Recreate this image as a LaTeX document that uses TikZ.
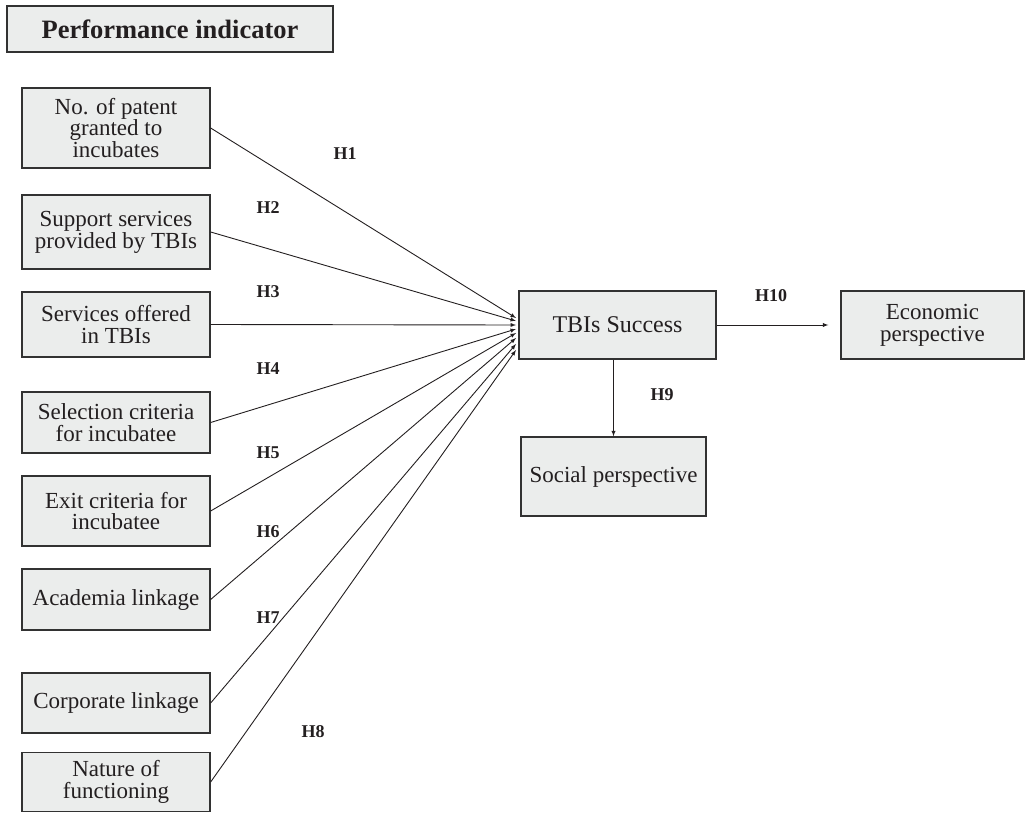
\documentclass[tikz,border=0pt]{standalone}
\usepackage{fontspec}
\setmainfont{Liberation Serif}
\usepackage{tikz}
\usetikzlibrary{arrows}
\usetikzlibrary{calc}

\definecolor{boxfill}{RGB}{235,237,236}
\definecolor{boxline}{RGB}{50,50,50}
\definecolor{ink}{RGB}{35,31,32}

\tikzset{
    indbox/.style={draw=boxline, line width=1.3pt, fill=boxfill, text=ink,
        align=center, inner sep=0pt,
        font=\fontsize{23}{21.8}\selectfont},
    hlabel/.style={text=ink, font=\fontsize{18}{18}\selectfont\bfseries},
    link/.style={draw=ink, line width=0.9pt, ->, >=latex}
}

\begin{document}
\begin{tikzpicture}[x=1pt,y=-1pt]
    \useasboundingbox (0,0) rectangle (1026,813);

    \node[indbox, minimum width=326pt, minimum height=46pt,
        font=\fontsize{26.5}{26.5}\selectfont\bfseries] (perf) at (170,29) {Performance indicator};

    \node[indbox, minimum width=188pt, minimum height=80pt] (p1) at (116,128) {No. of patent\\granted to\\incubates};
    \node[indbox, minimum width=188pt, minimum height=74pt] (p2) at (116,232) {Support services\\provided by TBIs};
    \node[indbox, minimum width=188pt, minimum height=65pt] (p3) at (116,324.5) {Services offered\\in TBIs};
    \node[indbox, minimum width=188pt, minimum height=61pt] (p4) at (116,422.5) {Selection criteria\\for incubatee};
    \node[indbox, minimum width=188pt, minimum height=70pt] (p5) at (116,511) {Exit criteria for\\incubatee};
    \node[indbox, minimum width=188pt, minimum height=61pt] (p6) at (116,599.5) {Academia linkage};
    \node[indbox, minimum width=188pt, minimum height=60pt] (p7) at (116,703) {Corporate linkage};
    \node[indbox, minimum width=188pt, minimum height=59pt] (p8) at (116,782) {Nature of\\functioning};

    \node[indbox, minimum width=197pt, minimum height=68pt,
        font=\fontsize{24}{24}\selectfont] (tbi) at (617.5,325) {TBIs Success};
    \node[indbox, minimum width=183pt, minimum height=68pt] (econ) at (932.5,325) {Economic\\perspective};
    \node[indbox, minimum width=185pt, minimum height=79pt] (social) at (613.5,476.5) {Social perspective};

    \foreach \i/\ty in {1/318,2/321,3/325,4/329,5/333,6/338,7/344,8/350}{
        \coordinate (t\i) at (516,\ty);
        \draw[link] (p\i.east) -- (t\i);
    }

    \draw[link, shorten >=12pt] (tbi.east) -- (econ.west);
    \draw[link] (social.north |- tbi.south) -- (social.north);

    \node[hlabel] (h1) at (345,154) {H1};
    \node[hlabel] (h2) at (268,208) {H2};
    \node[hlabel] (h3) at (268,292) {H3};
    \node[hlabel] (h4) at (268,369) {H4};
    \node[hlabel] (h5) at (268,453) {H5};
    \node[hlabel] (h6) at (268,532) {H6};
    \node[hlabel] (h7) at (268,618) {H7};
    \node[hlabel] (h8) at (313,732) {H8};
    \node[hlabel] (h9) at (662,395) {H9};
    \node[hlabel] (h10) at (771,296) {H10};
\end{tikzpicture}
\end{document}
